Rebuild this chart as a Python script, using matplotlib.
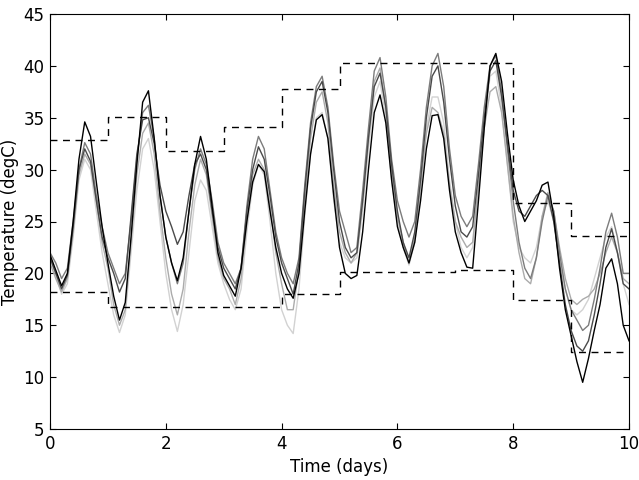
import matplotlib
matplotlib.use("Agg")
import matplotlib.pyplot as plt
import numpy as np

#----------------------------------------------------------------------------------
# sampled temperatures, one sample every 0.1 day (read off the picture)

time_days = np.linspace(0, 10, 101)

temp_black = [
    21.8, 20.3, 18.8, 20.0, 25.0, 31.0, 34.6, 33.2, 28.8, 24.5,
    21.0, 17.8, 15.5, 17.2, 23.5, 30.5, 36.5, 37.6, 33.0, 27.5,
    23.5, 21.0, 19.3, 21.5, 26.0, 30.5, 33.2, 31.0, 26.5, 22.0,
    19.8, 18.8, 17.8, 20.5, 25.0, 28.8, 30.5, 29.8, 26.0, 22.5,
    20.0, 18.5, 17.6, 20.0, 26.0, 31.5, 34.8, 35.3, 33.0, 27.5,
    22.5, 20.0, 19.5, 19.8, 24.0, 30.0, 35.5, 37.2, 34.5, 29.0,
    24.5, 22.5, 21.0, 23.0, 27.0, 32.0, 35.2, 35.3, 33.0, 28.0,
    24.0, 22.0, 20.6, 20.5, 27.0, 34.0, 40.0, 41.2, 38.5, 33.5,
    29.0, 26.5, 25.0, 26.0, 27.0, 28.5, 28.8, 25.5, 20.5, 16.5,
    14.0, 11.5, 9.5, 11.8, 14.5, 17.0, 20.5, 21.4, 19.0, 15.0,
    13.5]

temp_dark = [
    21.5, 20.0, 18.5, 19.8, 24.5, 30.0, 32.0, 30.8, 27.0, 23.5,
    21.5, 20.0, 18.2, 19.5, 25.5, 31.5, 34.8, 35.0, 32.5, 28.5,
    26.0, 24.5, 22.8, 24.0, 27.5, 30.5, 31.5, 30.0, 26.0, 22.5,
    20.5, 19.5, 18.5, 20.5, 26.0, 30.0, 32.2, 31.0, 27.5, 23.5,
    21.0, 19.5, 18.0, 21.0, 28.0, 34.0, 37.5, 38.5, 35.5, 30.0,
    25.0, 22.5, 21.5, 22.0, 27.0, 33.0, 38.0, 39.3, 36.0, 30.5,
    26.0, 23.0, 21.5, 24.0, 29.0, 35.0, 39.0, 40.0, 36.5, 31.0,
    26.5, 24.0, 23.5, 24.5, 29.5, 35.0, 39.5, 40.5, 37.0, 32.5,
    28.0, 26.0, 25.5, 26.5, 27.5, 28.0, 27.5, 25.0, 21.0, 17.0,
    14.5, 13.0, 12.5, 13.5, 16.0, 19.0, 22.5, 24.3, 22.0, 19.0,
    18.5]

temp_mid = [
    22.0, 21.0, 19.5, 20.5, 25.0, 30.0, 32.6, 31.5, 27.5, 24.5,
    22.0, 20.5, 19.0, 20.0, 25.0, 31.0, 35.5, 36.2, 33.0, 27.5,
    23.5, 21.0, 19.0, 21.0, 26.0, 30.0, 32.0, 30.5, 27.0, 23.0,
    21.0, 20.0, 19.0, 20.5, 26.5, 31.0, 33.2, 32.0, 28.0, 24.0,
    21.5, 20.0, 19.0, 21.5, 28.5, 34.5, 38.0, 39.0, 36.0, 30.5,
    26.0, 24.0, 22.0, 22.5, 28.0, 34.0, 39.5, 40.8, 37.0, 31.0,
    27.0, 25.0, 23.5, 25.0, 30.0, 36.0, 40.0, 41.2, 38.0, 32.0,
    27.5, 25.5, 24.5, 25.5, 30.5, 36.0, 40.0, 41.0, 37.5, 32.0,
    27.0, 23.0, 20.5, 19.5, 21.5, 25.0, 27.5, 26.0, 22.0, 18.5,
    16.5, 15.5, 14.5, 15.0, 17.5, 20.5, 24.0, 25.8, 23.5, 20.0,
    20.0]

temp_light = [
    21.0, 19.5, 18.2, 19.5, 24.0, 29.5, 31.5, 30.5, 27.0, 23.0,
    20.5, 17.0, 15.0, 16.5, 23.0, 29.5, 33.5, 34.5, 31.5, 26.0,
    21.5, 18.0, 16.0, 18.5, 24.0, 28.5, 31.0, 29.5, 25.5, 21.5,
    19.5, 18.5, 17.0, 19.5, 25.0, 29.5, 31.0, 30.0, 26.5, 22.0,
    19.0, 16.5, 16.5, 20.5, 27.0, 33.0, 36.5, 37.5, 34.5, 28.5,
    24.0, 22.0, 21.0, 22.0, 27.0, 33.0, 38.5, 39.8, 36.0, 30.0,
    25.5, 23.0, 21.0, 23.5, 28.5, 33.5, 36.0, 35.5, 33.5, 28.5,
    25.0, 23.5, 22.5, 23.0, 28.5, 34.0, 37.5, 38.0, 35.5, 30.5,
    25.5, 22.0, 19.5, 19.0, 21.5, 25.5, 27.8, 26.0, 22.5, 19.5,
    17.5, 17.0, 17.5, 17.8, 18.5, 20.0, 22.0, 23.5, 22.0, 19.5,
    19.0]

temp_pale = [
    21.5, 19.8, 18.0, 19.0, 23.5, 29.0, 31.0, 30.0, 26.0, 22.0,
    19.0, 16.0, 14.3, 16.0, 22.0, 28.0, 32.0, 33.0, 30.0, 25.0,
    20.0, 16.5, 14.4, 17.0, 22.0, 27.0, 29.0, 28.0, 24.5, 21.0,
    19.0, 17.5, 16.5, 18.5, 24.0, 28.5, 30.5, 29.5, 25.0, 20.0,
    16.5, 15.0, 14.2, 18.5, 25.5, 31.5, 35.0, 35.5, 33.0, 27.0,
    23.0, 21.5, 21.0, 21.5, 26.0, 32.0, 37.0, 38.5, 35.0, 29.0,
    25.0, 22.5, 20.8, 23.0, 28.0, 34.0, 37.0, 37.0, 34.5, 29.0,
    25.0, 22.5, 21.5, 22.5, 28.0, 34.5, 39.0, 39.5, 36.0, 30.5,
    25.0, 22.5, 21.5, 21.0, 22.5, 25.5, 27.0, 25.0, 21.5, 18.5,
    16.5, 16.0, 16.5, 17.5, 19.5, 21.5, 23.5, 24.5, 22.0, 19.0,
    17.0]

# daily max / min forecast (dashed steps)
day_edges = [0, 1, 2, 3, 4, 5, 6, 7, 8, 9, 10]
daily_max = [32.9, 35.1, 31.8, 34.1, 37.8, 40.3, 40.3, 40.3, 26.8, 23.6]
daily_min = [18.2, 16.8, 16.8, 16.8, 18.0, 20.1, 20.1, 20.3, 17.4, 12.4]

#----------------------------------------------------------------------------------

plt.rcParams["font.family"] = "DejaVu Sans"
plt.rcParams["font.size"] = 12
plt.rcParams["xtick.direction"] = "in"
plt.rcParams["ytick.direction"] = "in"
plt.rcParams["xtick.top"] = True
plt.rcParams["ytick.right"] = True
plt.rcParams["xtick.major.size"] = 4
plt.rcParams["ytick.major.size"] = 4
plt.rcParams["xtick.major.pad"] = 4
plt.rcParams["ytick.major.pad"] = 4

fig = plt.figure(figsize=(6.39, 4.8), dpi=100)
ax = fig.add_subplot(111)
fig.subplots_adjust(left=50 / 639, right=629 / 639, top=1 - 14 / 480, bottom=1 - 429 / 480)

series = [temp_pale, temp_light, temp_mid, temp_dark, temp_black]
shades = ["#d2d2d2", "#ababab", "#7c7c7c", "#4a4a4a", "#000000"]
for values, shade in zip(series, shades):
    ax.plot(time_days, values, color=shade, linewidth=1.0)

ax.step(day_edges, daily_max + daily_max[-1:], where="post", color="black",
        linestyle="--", dashes=(5, 4), linewidth=1.0)
ax.step(day_edges, daily_min + daily_min[-1:], where="post", color="black",
        linestyle="--", dashes=(5, 4), linewidth=1.0)

ax.set_xlim(0, 10)
ax.set_ylim(5, 45)
ax.set_xticks([0, 2, 4, 6, 8, 10])
ax.set_yticks([5, 10, 15, 20, 25, 30, 35, 40, 45])
ax.set_xlabel("Time (days)")
ax.set_ylabel("Temperature (degC)", labelpad=3)

fig.savefig("out.png", dpi=100)
